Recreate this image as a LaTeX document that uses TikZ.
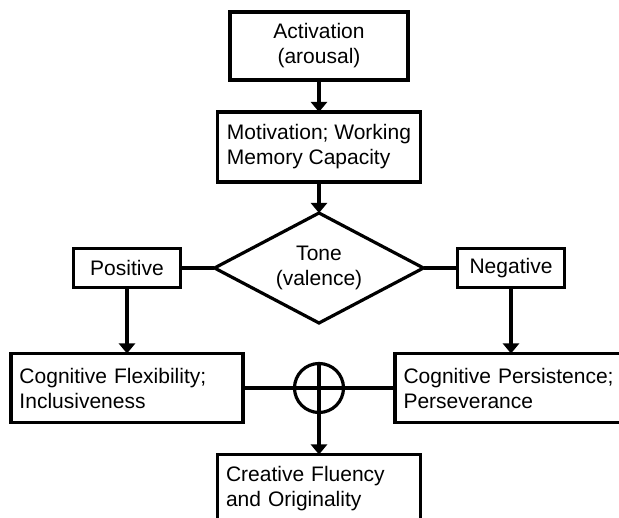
\documentclass[tikz,border=0pt]{standalone}
\usepackage{fontspec}
\setmainfont{Liberation Sans}
\usetikzlibrary{shapes,shapes.geometric,arrows,calc,positioning,arrows.meta}

\begin{document}
\begin{tikzpicture}[
    x=1pt,y=-1pt,
    >={Triangle[width=16pt,length=10pt]},
    line width=3.2pt,
    font=\fontsize{21}{25}\selectfont,
    box/.style={rectangle,draw,outer sep=0pt,inner xsep=8.5pt,inner ysep=0pt},
    tallbox/.style={box,minimum height=69pt,align=left},
    smallbox/.style={box,minimum width=107pt,minimum height=39pt},
    decision/.style={diamond,draw,aspect=1.9,inner sep=0pt,outer sep=0pt,
      minimum width=209pt,minimum height=110pt,align=center}]
    \clip (0,0) rectangle (619,518);
    \node[box,minimum width=178pt,minimum height=68pt,align=center] (act) at (319,46) {Activation\\(arousal)};
    \node[tallbox,minimum width=203pt,minimum height=70pt] (mot) [below=32pt of act] {Motivation; Working\\Memory Capacity};
    \node[decision] (tone) [below=31pt of mot] {Tone\\(valence)};
    \node[smallbox] (pos) [left=34pt of tone] {Positive};
    \node[smallbox] (neg) [right=34pt of tone] {Negative};
    \node[tallbox,text width=215pt] (flex) [below=66pt of pos] {Cognitive Flexibility;\\Inclusiveness};
    \node[tallbox,text width=215pt] (pers) [below=66pt of neg] {Cognitive Persistence;\\Perseverance};
    \node[circle,draw,minimum size=49pt,inner sep=0pt,outer sep=0pt] (sum) at (tone |- flex) {};
    \node[tallbox,text width=186pt] (crea) [below=42pt of sum] {Creative Fluency\\and Originality};

    \draw[->] (act) -- (mot);
    \draw[->] (mot) -- (tone);
    \draw (pos) -- (tone);
    \draw (tone) -- (neg);
    \draw[->] (pos) -- (flex);
    \draw[->] (neg) -- (pers);
    \draw (flex.east) -- (pers.west);
    \draw (sum.north) -- (sum.south);
    \draw[->] (sum) -- (crea);
  \end{tikzpicture}
\end{document}
